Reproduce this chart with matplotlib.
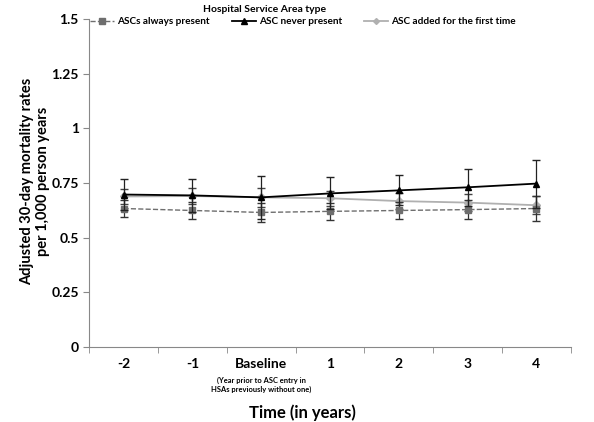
import numpy as np
import matplotlib.pyplot as plt
from matplotlib.lines import Line2D

plt.rcParams['font.family'] = ['Lato', 'DejaVu Sans']
plt.rcParams['font.weight'] = 'bold'

categories = ["-2", "-1", "Baseline", "1", "2", "3", "4"]

always_present = [0.633, 0.624, 0.615, 0.620, 0.624, 0.628, 0.633]
always_err = [0.040, 0.040, 0.045, 0.040, 0.040, 0.042, 0.055]

never_present = [0.697, 0.693, 0.684, 0.702, 0.716, 0.730, 0.747]
never_err = [0.073, 0.077, 0.098, 0.073, 0.069, 0.085, 0.110]

added_first = [0.688, 0.690, 0.684, 0.680, 0.667, 0.660, 0.648]
added_err = [0.035, 0.035, 0.045, 0.035, 0.035, 0.040, 0.040]

x = np.arange(len(categories))

fig = plt.figure(figsize=(5.94, 4.22), dpi=100)
ax = fig.add_axes([0.150, 0.178, 0.811, 0.777])

ax.errorbar(x, always_present, yerr=always_err, color='#6e6e6e', ls='--', lw=1.0,
            marker='s', ms=5, ecolor='#333333', elinewidth=0.9, capsize=3, zorder=3)
ax.errorbar(x, added_first, yerr=added_err, color='#b0b0b0', ls='-', lw=1.3,
            marker='D', ms=4, ecolor='#444444', elinewidth=0.9, capsize=3, zorder=2)
ax.errorbar(x, never_present, yerr=never_err, color='black', ls='-', lw=1.3,
            marker='^', ms=4.5, ecolor='#222222', elinewidth=0.9, capsize=3, zorder=4)

ax.set_ylim(0, 1.5)
ax.set_yticks(np.arange(0, 1.51, 0.25))
ax.set_yticklabels(["0", "0.25", "0.5", "0.75", "1", "1.25", "1.5"], fontsize=10)
ax.set_xlim(-0.5, len(categories) - 0.5)
ax.set_xticks(x)
ax.set_xticklabels(categories, fontsize=10)
ax.tick_params(axis='x', length=0, pad=8)
ax.set_xticks(np.arange(-0.5, len(categories), 1.0), minor=True)
ax.tick_params(axis='x', which='minor', length=4, color='#888888', direction='out')
ax.tick_params(axis='y', length=4, color='#888888', direction='out')

for s in ['top', 'right']:
    ax.spines[s].set_visible(False)
for s in ['left', 'bottom']:
    ax.spines[s].set_color('#888888')

handles = [
    Line2D([], [], color='#6e6e6e', ls='--', lw=1.0, marker='s', ms=4),
    Line2D([], [], color='black', ls='-', lw=1.3, marker='^', ms=4),
    Line2D([], [], color='#b0b0b0', ls='-', lw=1.3, marker='D', ms=3),
]
labels = ["ASCs always present", "ASC never present", "ASC added for the first time"]
fig.legend(handles, labels, ncol=3, loc='center left',
           bbox_to_anchor=(90 / 594, 1 - 22 / 422), frameon=False,
           fontsize=7.2, handlelength=2.4, columnspacing=2.2, handletextpad=0.3,
           borderaxespad=0, borderpad=0)

fig.text(265 / 594, 1 - 9 / 422, "Hospital Service Area type", ha='center', va='center',
         fontsize=7.5)
ax.text(2, -0.135, "(Year prior to ASC entry in\nHSAs previously without one)",
        ha='center', va='top', fontsize=5.4, linespacing=1.3)
fig.text(302 / 594, 1 - 413 / 422, "Time (in years)", ha='center', va='center',
         fontsize=12)
fig.text(35 / 594, 1 - 181 / 422, "Adjusted 30-day mortality rates\nper 1,000 person years",
         ha='center', va='center', rotation=90, fontsize=10.5, linespacing=1.1)

fig.savefig("out.png", dpi=100)
